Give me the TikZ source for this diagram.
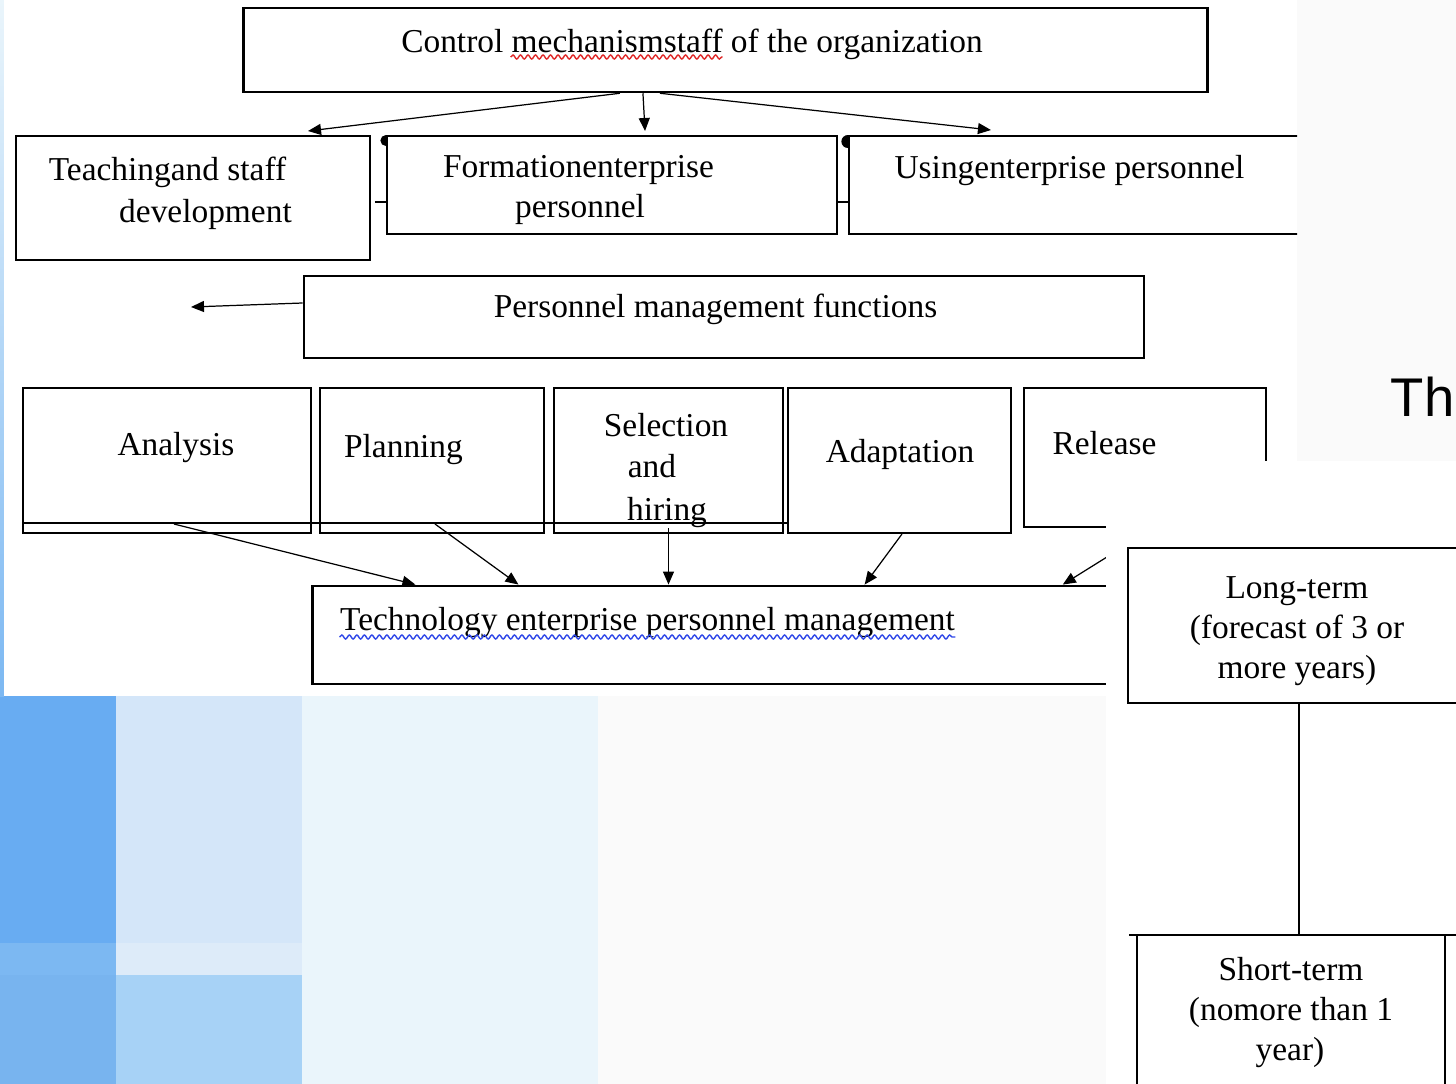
\documentclass[tikz,border=0pt]{standalone}
\usepackage{fontspec}
\setmainfont{Liberation Serif}
\newfontfamily\slidefont{Liberation Sans}
\usetikzlibrary{arrows.meta,decorations.pathmorphing}

\definecolor{slidebg}{HTML}{FAFAFA}
\definecolor{blueA}{HTML}{68ACF2}
\definecolor{blueB}{HTML}{7CB8F2}
\definecolor{blueC}{HTML}{78B4EF}
\definecolor{paleA}{HTML}{D4E6F9}
\definecolor{paleB}{HTML}{DDEBF9}
\definecolor{paleC}{HTML}{A7D2F6}
\definecolor{paleD}{HTML}{EAF5FB}
\definecolor{wavyred}{HTML}{E02828}
\definecolor{wavyblue}{HTML}{3048E8}

\begin{document}
\begin{tikzpicture}[x=0.01cm,y=-0.01cm,
  box/.style={draw,line width=0.55pt,inner sep=0pt},
  lbl/.style={inner sep=0pt,anchor=base,font=\fontsize{9.5}{11.6}\selectfont},
  link/.style={line width=0.35pt,-{Triangle[length=1.3mm,width=1.1mm]}},
  wavy/.style={decorate,decoration={snake,segment length=0.075cm,amplitude=0.02cm},line width=0.4pt}]
\useasboundingbox (0,0) rectangle (1456,1084);
% slide behind the two cut-outs
\fill[slidebg] (0,0) rectangle (1456,1084);
\fill[blueA] (0,696) rectangle (116,943);
\fill[blueB] (0,943) rectangle (116,975);
\fill[blueC] (0,975) rectangle (116,1084);
\fill[paleA] (116,696) rectangle (302,943);
\fill[paleB] (116,943) rectangle (302,975);
\fill[paleC] (116,975) rectangle (302,1084);
\fill[paleD] (302,696) rectangle (598,1084);
\shade[top color=paleD,bottom color=blueB] (0,0) rectangle (4,696);
\node (th) at (1390,416) [anchor=base west,inner sep=0pt,font=\slidefont\fontsize{15.5}{18}\selectfont] {Th};

% first cut-out
\fill[white] (4,0) rectangle (1297,696);
\begin{scope}
\clip (4,0) rectangle (1297,696);
\node (ctrl)  at (725.5,50)   [box,line width=0.7pt,minimum width=9.63cm,minimum height=0.84cm] {};
\node (teach) at (193,198)    [box,minimum width=3.54cm,minimum height=1.24cm] {};
\node (form)  at (612,185)    [box,minimum width=4.50cm,minimum height=0.98cm] {};
\node (using) at (1124.5,185) [box,minimum width=5.51cm,minimum height=0.98cm] {};
\node (pmf)   at (724,317)    [box,line width=0.7pt,minimum width=8.40cm,minimum height=0.82cm] {};
\node (ana)   at (167,460.5)  [box,minimum width=2.88cm,minimum height=1.45cm] {};
\node (plan)  at (432,460.5)  [box,minimum width=2.24cm,minimum height=1.45cm] {};
\node (sel)   at (668.5,460.5)[box,minimum width=2.29cm,minimum height=1.45cm] {};
\node (adap)  at (899.5,460.5)[box,minimum width=2.23cm,minimum height=1.45cm] {};
\node (rel)   at (1145,457.5) [box,line width=0.7pt,minimum width=2.42cm,minimum height=1.39cm] {};
\node (tech)  at (756.5,635)  [box,line width=0.8pt,minimum width=8.87cm,minimum height=0.98cm] {};
\coordinate (pmf-out) at (191,307);

\node (t-ctrl)   at (692,52)     [lbl] {Control mechanismstaff of the organization};
\node (t-teach1) at (167.5,180)  [lbl] {Teachingand staff};
\node (t-teach2) at (205.5,222)  [lbl] {development};
\node (t-form1)  at (578.5,177)  [lbl] {Formationenterprise};
\node (t-form2)  at (580,217)    [lbl] {personnel};
\node (t-using)  at (1069.5,178) [lbl] {Usingenterprise personnel};
\node (t-pmf)    at (715.5,317)  [lbl] {Personnel management functions};
\node (t-ana)    at (176,455)    [lbl] {Analysis};
\node (t-plan)   at (403.5,457)  [lbl] {Planning};
\node (t-sel1)   at (666,436)    [lbl] {Selection};
\node (t-sel2)   at (652,477)    [lbl] {and};
\node (t-sel3)   at (667,520)    [lbl] {hiring};
\node (t-adap)   at (900,462)    [lbl] {Adaptation};
\node (t-rel)    at (1104.5,454) [lbl] {Release};
\node (t-tech)   at (647.5,630)  [lbl] {Technology enterprise personnel management};

\draw[wavy,wavyred] ([xshift=1.1cm,yshift=-0.05cm]t-ctrl.base west) -- ++(212,0);
\draw[wavy,wavyblue] ([yshift=-0.07cm]t-tech.base west) -- ([yshift=-0.07cm]t-tech.base east);

\draw[line width=0.5pt] ([yshift=0.11cm]ana.south west) -- ([yshift=0.11cm]adap.south west);
\draw[line width=0.4pt] ([xshift=-0.11cm,yshift=-0.17cm]form.west) -- ([yshift=-0.17cm]form.west);
\draw[line width=0.4pt] ([yshift=-0.17cm]form.east) -- ([yshift=-0.17cm]using.west);
\fill (form.north west) arc[start angle=90,end angle=270,radius=0.055cm] -- cycle;
\fill (using.north west) arc[start angle=90,end angle=270,radius=0.065cm] -- cycle;

\path [link]
  ([xshift=-1.055cm]ctrl.south)            edge ([xshift=-0.63cm,yshift=0.04cm]teach.north east)
  ([xshift=-0.825cm]ctrl.south)            edge ([xshift=0.33cm,yshift=0.04cm]form.north)
  ([xshift=-0.655cm]ctrl.south)            edge ([xshift=1.43cm,yshift=0.05cm]using.north west)
  ([yshift=0.14cm]pmf.west)                edge (pmf-out)
  ([xshift=0.07cm,yshift=0.1cm]ana.south)  edge ([xshift=1.04cm]tech.north west)
  ([xshift=0.03cm,yshift=0.1cm]plan.south) edge ([xshift=2.07cm]tech.north west)
  ([yshift=0.06cm]sel.south)               edge (sel.south |- tech.north)
  ([xshift=0.025cm]adap.south)             edge ([xshift=5.53cm]tech.north west)
  ([xshift=0.08cm]rel.south)               edge ([xshift=7.51cm]tech.north west);
\end{scope}

% second cut-out
\fill[white] (1106,461) rectangle (1456,1084);
\node (long)  at (1299,625.5) [box,minimum width=3.42cm,minimum height=1.55cm] {};
\node (short) at (1291,1042)  [box,minimum width=3.08cm,minimum height=2.14cm] {};
\coordinate (bar-l) at (1129,935);
\coordinate (bar-r) at (1470,935);
\draw[line width=0.5pt] (bar-l) -- (bar-r);
\draw[line width=0.5pt] (long.south) -- (long.south |- bar-l);

\node (t-long1)  at (1297,598)  [lbl] {Long-term};
\node (t-long2)  at (1297,638)  [lbl] {(forecast of 3 or};
\node (t-long3)  at (1297,678)  [lbl] {more years)};
\node (t-short1) at (1291,980)  [lbl] {Short-term};
\node (t-short2) at (1291,1020) [lbl] {(nomore than 1};
\node (t-short3) at (1290,1060) [lbl] {year)};
\end{tikzpicture}
\end{document}
